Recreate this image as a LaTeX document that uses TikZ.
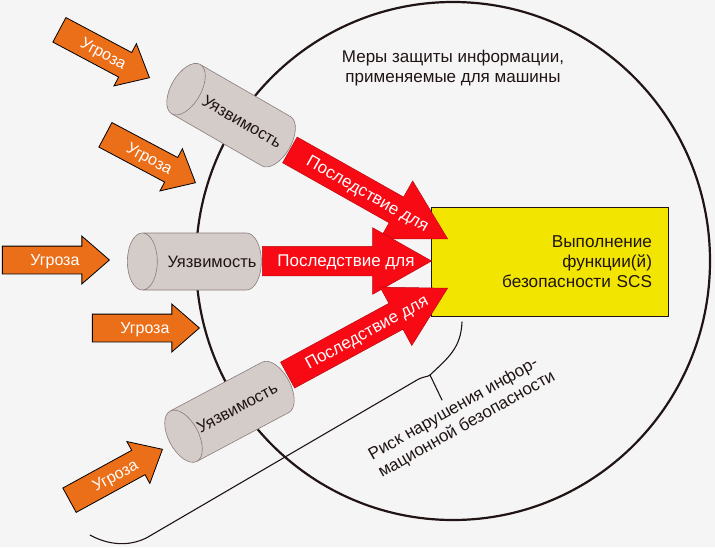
\documentclass[tikz,border=0pt]{standalone}
\usepackage{fontspec}
\setmainfont{Liberation Sans}
\usetikzlibrary{shapes.geometric,shapes.arrows}

\definecolor{bgray}{HTML}{F5F5F5}
\definecolor{threatorange}{HTML}{EB6E19}
\definecolor{conred}{HTML}{F80A14}
\definecolor{cylfill}{HTML}{D4CCC8}
\definecolor{cylline}{HTML}{8C7C7C}
\definecolor{scsyellow}{HTML}{F2E600}
\definecolor{ink}{HTML}{201414}

% visible text nudged along the shape without widening it
\newcommand{\fwd}[2]{\hspace*{#1}#2\hspace*{-#1}}

\begin{document}
\begin{tikzpicture}[x=1pt, y=-1pt,
  threat/.style={single arrow, draw=black, line width=0.8pt, fill=threatorange, text=white,
    font=\fontsize{16}{16}\selectfont, inner xsep=0pt, inner ysep=0pt,
    text height=19pt, text depth=8pt, minimum width=0pt, anchor=tip,
    single arrow head extend=10pt, single arrow tip angle=82},
  conseq/.style={single arrow, draw=conred!75!black, line width=0.5pt, fill=conred, text=white,
    font=\fontsize{17}{17}\selectfont, inner xsep=0pt, inner ysep=0pt,
    text height=20pt, text depth=9pt, minimum width=0pt, anchor=tip,
    single arrow head extend=18.5pt, single arrow tip angle=59},
  vuln/.style={cylinder, shape border rotate=180, aspect=2.6, draw=cylline, line width=0.6pt,
    fill=cylfill, text=ink, font=\fontsize{16.5}{16.5}\selectfont,
    minimum width=57pt, minimum height=134pt, inner sep=0pt},
  scsbox/.style={draw=ink, line width=0.8pt, fill=scsyellow, text=ink, align=right,
    font=\fontsize{17.2}{20}\selectfont, minimum width=237pt, minimum height=109pt,
    text width=205pt, inner xsep=16pt},
  caption/.style={text=ink, font=\fontsize{17}{20}\selectfont},
  brace/.style={ink, line width=1.1pt, line cap=round},
]
\useasboundingbox (0,0) rectangle (715,547);
\fill[bgray] (0,0) rectangle (715,547);

% machine boundary
\node[draw=ink, line width=2.2pt, ellipse, minimum width=514pt, minimum height=518pt, inner sep=0pt] (ring) at (453,261) {};
\node[caption, align=center] (meas) at (453,68) {Меры защиты информации,\\применяемые для машины};

% risk brace
\coordinate (cusp) at (430,375);
\draw[brace] (90,535) .. controls (106,544) and (128,548) .. (148,537) -- (417,380)
  .. controls (424,376) and (428,377) .. (cusp);
\draw[brace] (cusp) .. controls (448,358) and (461,348) .. (462,322);
\draw[brace] (cusp) -- (442,400);
\node[caption, align=left, rotate=29.5] (risk) at (462,416) {Риск нарушения инфор-\\мационной безопасности};

% safety function
\node[scsbox] (scs) at (549.5,261.5) {Выполнение\\функции(й)\\безопасности SCS};

% consequences
\node[conseq, minimum height=181pt, rotate=-29.4] (c1) at (448,239) {\fwd{12pt}{Последствие для}};
\node[conseq, minimum height=169pt] (c2) at (432,261) {\fwd{12pt}{Последствие для}};
\node[conseq, minimum height=182pt, rotate=28.5] (c3) at (448,288) {\fwd{12pt}{Последствие для}};

% vulnerabilities
\node[vuln, rotate=-30] (v1) at (237.7,119) {\fwd{5pt}{Уязвимость}};
\node[vuln] (v2) at (202,261.5) {\fwd{10pt}{Уязвимость}};
\node[vuln, rotate=28] (v3) at (236.2,408.2) {\fwd{1pt}{Уязвимость}};

% threats
\node[threat, minimum height=102pt, rotate=-28] (t1) at (150,78) {\fwd{7pt}{Угроза}};
\node[threat, minimum height=102pt, rotate=-28] (t2) at (196,183) {\fwd{7pt}{Угроза}};
\node[threat, minimum height=107pt] (t3) at (110,260) {\fwd{7pt}{Угроза}};
\node[threat, minimum height=107pt] (t4) at (200,328) {\fwd{7pt}{Угроза}};
\node[threat, minimum height=106pt, rotate=28.7] (t5) at (163,449) {\fwd{7pt}{Угроза}};
\end{tikzpicture}
\end{document}
